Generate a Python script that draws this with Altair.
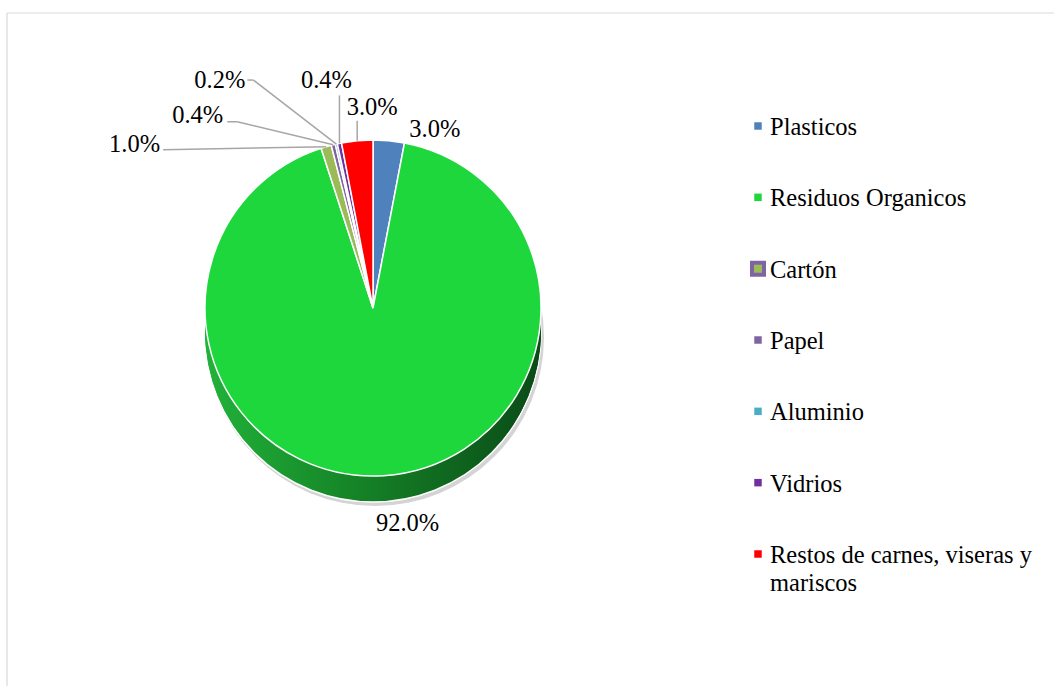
import math
import altair as alt
import pandas as pd

# ---- data ----
categories = ["Plasticos", "Residuos Organicos", "Cartón", "Papel",
              "Aluminio", "Vidrios", "Restos de carnes, viseras y mariscos"]
percentages = [3.0, 92.0, 1.0, 0.4, 0.2, 0.4, 3.0]
slice_colors = ["#4F81BD", "#1ED73C", "#9BBB59", "#8064A2",
                "#4BACC6", "#7030A0", "#FF0000"]
legend_text = ["Plasticos", "Residuos Organicos", "Cartón", "Papel",
               "Aluminio", "Vidrios", "Restos de carnes, viseras y\nmariscos"]

# ---- label layout (offsets from each slice's outer point, in px) ----
label_dx = [46, 24, -166, -110, -91, -13, 15]
label_dy = [-11, 48, -2, -29, -63, -62, -33]
label_align = ["center", "center", "right", "right", "right", "center", "center"]
has_leader = [False, False, True, True, True, True, True]
leader_dx = [0, 0, -163, -96, -83, 0, 0]
leader_dy = [0, 0, 3, -23, -64, -48, -20]
leader_elbow = [0, 0, 0, 10, 6, 0, 0]

# ---- geometry / style ----
W, H = 1054, 686
CX, CY, R, DEPTH = 373, 308, 168, 26
FONT = "Liberation Serif"
FS = 24.5

df = pd.DataFrame({
    "cat": categories,
    "value": percentages,
    "order": list(range(len(categories))),
    "legend_label": legend_text,
    "tdx": label_dx, "tdy": label_dy, "align": label_align,
    "line": has_leader, "ldx": leader_dx, "ldy": leader_dy, "elbow": leader_elbow,
})
one = pd.DataFrame({"k": [0]})

color_scale = alt.Scale(domain=categories, range=slice_colors)

side_gradient = alt.LinearGradient(
    gradient="linear",
    stops=[alt.GradientStop(offset=0, color="#21B23A"),
           alt.GradientStop(offset=0.45, color="#158327"),
           alt.GradientStop(offset=1, color="#0A4B17")],
    x1=0, x2=1, y1=0, y2=0,
)

layers = []

# frame lines (top and left edges of the chart area)
layers.append(alt.Chart(one).mark_rule(color="#D9D9D9", strokeWidth=1.2).encode(
    x=alt.value(7), x2=alt.value(W), y=alt.value(13)))
layers.append(alt.Chart(one).mark_rule(color="#D9D9D9", strokeWidth=1.2).encode(
    x=alt.value(7), y=alt.value(13), y2=alt.value(H)))

# soft shadow under the pie
layers.append(alt.Chart(one).mark_arc(radius=R + 1, theta=0, theta2=2 * math.pi,
                                      fill="#D4D4D4").encode(
    x=alt.value(CX + 2), y=alt.value(CY + DEPTH + 3)))

# side of the 3-D pie
for d in range(DEPTH, 0, -2):
    extra = {"stroke": "white", "strokeWidth": 1.5} if d == DEPTH else {}
    layers.append(alt.Chart(one).mark_arc(radius=R, theta=0, theta2=2 * math.pi,
                                          fill=side_gradient, **extra).encode(
        x=alt.value(CX), y=alt.value(CY + d)))

# top of the pie
layers.append(alt.Chart(df).mark_arc(radius=R, stroke="white", strokeWidth=1.5).encode(
    theta=alt.Theta("value:Q", stack=True),
    order=alt.Order("order:Q"),
    color=alt.Color("cat:N", scale=color_scale, legend=None),
    x=alt.value(CX), y=alt.value(CY),
))

base = alt.Chart(df).transform_window(
    cum="sum(value)", sort=[alt.SortField("order")], frame=[None, 0]
).transform_joinaggregate(
    total="sum(value)"
).transform_calculate(
    mid="(datum.cum - datum.value / 2) / datum.total * 2 * PI",
    sx=f"{CX} + {R} * sin(datum.mid)",
    sy=f"{CY} - {R} * cos(datum.mid)",
    label="format(datum.value, '.1f') + '%'",
).transform_calculate(
    tx="datum.sx + datum.tdx",
    ty="datum.sy + datum.tdy",
    ax="datum.sx + datum.ldx",
    ay="datum.sy + datum.ldy",
).transform_calculate(
    ex="datum.ax - datum.elbow",
)

# leader lines
layers.append(base.transform_filter("datum.line").mark_rule(
    color="#A6A6A6", strokeWidth=1.5).encode(
    x=alt.X("sx:Q", scale=None), y=alt.Y("sy:Q", scale=None),
    x2="ax:Q", y2="ay:Q"))
layers.append(base.transform_filter("datum.elbow > 0").mark_rule(
    color="#A6A6A6", strokeWidth=1.5).encode(
    x=alt.X("ax:Q", scale=None), y=alt.Y("ay:Q", scale=None),
    x2="ex:Q", y2="ay:Q"))

# data labels
for al in ["center", "right"]:
    layers.append(base.transform_filter(f"datum.align == '{al}'").mark_text(
        font=FONT, fontSize=FS, align=al, baseline="middle", color="#000000").encode(
        x=alt.X("tx:Q", scale=None), y=alt.Y("ty:Q", scale=None), text="label:N"))

# legend (drawn with the chart's own scales)
y_leg = alt.Scale(type="point", domain=categories, range=[126, 554], padding=0)
is_carton = "datum.cat == 'Cartón'"
layers.append(alt.Chart(df).mark_square(opacity=1).encode(
    x=alt.value(758),
    y=alt.Y("cat:N", sort=categories, axis=None, scale=y_leg),
    color=alt.Color("cat:N", scale=color_scale, legend=None),
    size=alt.condition(is_carton, alt.value(144), alt.value(56)),
    stroke=alt.condition(is_carton, alt.value("#8064A2"), alt.value("white")),
    strokeWidth=alt.condition(is_carton, alt.value(4), alt.value(0)),
))
layers.append(alt.Chart(df).mark_text(
    align="left", baseline="alphabetic", dy=9, font=FONT, fontSize=FS,
    lineBreak="\n", lineHeight=28, color="#000000").encode(
    x=alt.value(770),
    y=alt.Y("cat:N", sort=categories, axis=None, scale=y_leg),
    text="legend_label:N",
))

chart = alt.layer(*layers).resolve_scale(
    x="independent", y="independent"
).properties(
    width=W, height=H, padding=0,
    autosize=alt.AutoSizeParams(type="none"),
    background="white",
).configure_view(strokeWidth=0)

chart.save("out.html", embed_options={"renderer": "svg", "actions": False})
